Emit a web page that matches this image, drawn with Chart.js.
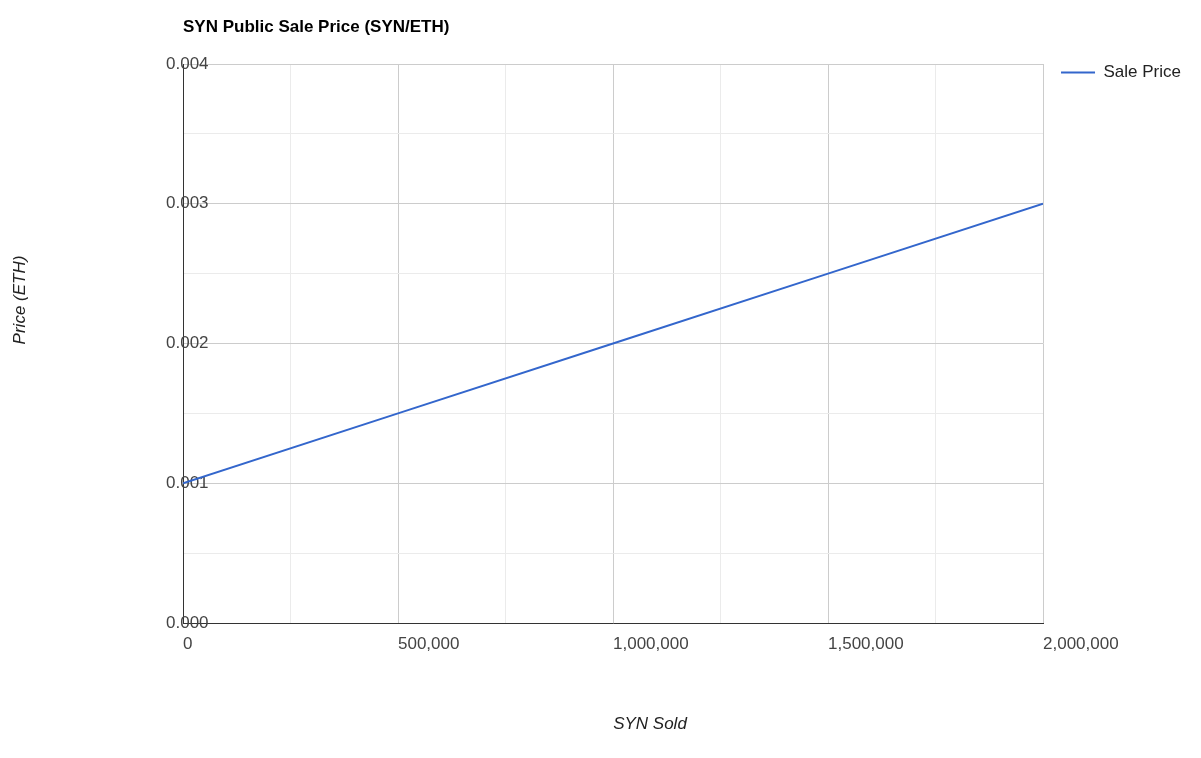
<!DOCTYPE html>
<html>
<head>
<meta charset="utf-8">
<script src="https://cdn.jsdelivr.net/npm/chart.js@4"></script>
<style>
  html, body { margin: 0; padding: 0; background: #fff; }
  #wrap { width: 1201px; height: 758px; }
</style>
</head>
<body>
<div id="wrap"><canvas id="myChart" width="1201" height="758"></canvas></div>
<script>
const synSold = [0, 500000, 1000000, 1500000, 2000000];
const salePrice = [0.001, 0.0015, 0.002, 0.0025, 0.003];
const seriesName = "Sale Price";
const chartTitle = "SYN Public Sale Price (SYN/ETH)";
const xTitle = "SYN Sold";
const yTitle = "Price (ETH)";

const FONT = "'Liberation Sans', Arial, sans-serif";
Chart.defaults.font.family = FONT;

const isMajor = (v, step) => Math.abs(v / step - Math.round(v / step)) < 1e-6;

// axis titles, placed like the google chart does
const axisTitles = {
  id: "axisTitles",
  afterDraw(chart) {
    const ctx = chart.ctx;
    ctx.save();
    ctx.font = "italic 17px " + FONT;
    ctx.fillStyle = "#222";
    ctx.textAlign = "center";
    ctx.textBaseline = "middle";
    ctx.fillText(xTitle, 650, 724);
    ctx.translate(20, 300);
    ctx.rotate(-Math.PI / 2);
    ctx.fillText(yTitle, 0, 0);
    ctx.restore();
  }
};

const data = {
  datasets: [
    {
      label: seriesName,
      data: synSold.map((x, i) => ({ x: x, y: salePrice[i] })),
      borderColor: "#3366cc",
      backgroundColor: "#3366cc",
      borderWidth: 2,
      pointRadius: 0,
      tension: 0,
    },
  ],
};

const config = {
  type: "line",
  data: data,
  options: {
    responsive: false,
    animation: false,
    layout: { padding: { left: 0, right: 10, top: 0, bottom: 0 } },
    plugins: {
      title: {
        display: true,
        text: chartTitle,
        align: "start",
        fullSize: false,
        color: "#000",
        font: { size: 17, weight: "bold" },
        padding: { top: 17.5, bottom: 26.1 },
      },
      legend: {
        position: "right",
        align: "start",
        fullSize: false,
        labels: {
          padding: 0,
          boxWidth: 34,
          boxHeight: 2,
          color: "#222",
          font: { size: 17 },
          generateLabels(chart) {
            return Chart.defaults.plugins.legend.labels.generateLabels(chart)
              .map((l) => Object.assign(l, { lineWidth: 0 }));
          },
        },
      },
      tooltip: { enabled: false },
    },
    scales: {
      x: {
        type: "linear",
        min: 0,
        max: 2000000,
        afterFit: (s) => { s.height = 135; },
        grid: {
          drawTicks: false,
          color: (c) => isMajor(c.tick.value, 500000) ? "#cccccc" : "#ebebeb",
        },
        border: { color: "#333333", width: 1 },
        ticks: {
          stepSize: 250000,
          autoSkip: false,
          maxRotation: 0,
          align: "start",
          padding: 11,
          color: "#444",
          font: { size: 17 },
          callback: (v) => isMajor(v, 500000) ? v.toLocaleString("en-US") : "",
        },
      },
      y: {
        min: 0,
        max: 0.004,
        afterFit: (s) => { s.width = 183; },
        grid: {
          drawTicks: false,
          color: (c) => isMajor(c.tick.value, 0.001) ? "#cccccc" : "#ebebeb",
        },
        border: { color: "#333333", width: 1 },
        ticks: {
          stepSize: 0.0005,
          autoSkip: false,
          mirror: true,
          padding: -17,
          color: "#444",
          font: { size: 17 },
          callback: (v) => isMajor(v, 0.001) ? v.toFixed(3) : "",
        },
      },
      // spacer between plot and legend
      gap: {
        type: "linear",
        position: "right",
        min: 0,
        max: 1,
        afterFit: (s) => { s.width = 18; },
        grid: { display: false },
        border: { display: false },
        ticks: { display: false },
      },
    },
  },
  plugins: [axisTitles],
};

const myChart = new Chart(document.getElementById("myChart"), config);
</script>
</body>
</html>
